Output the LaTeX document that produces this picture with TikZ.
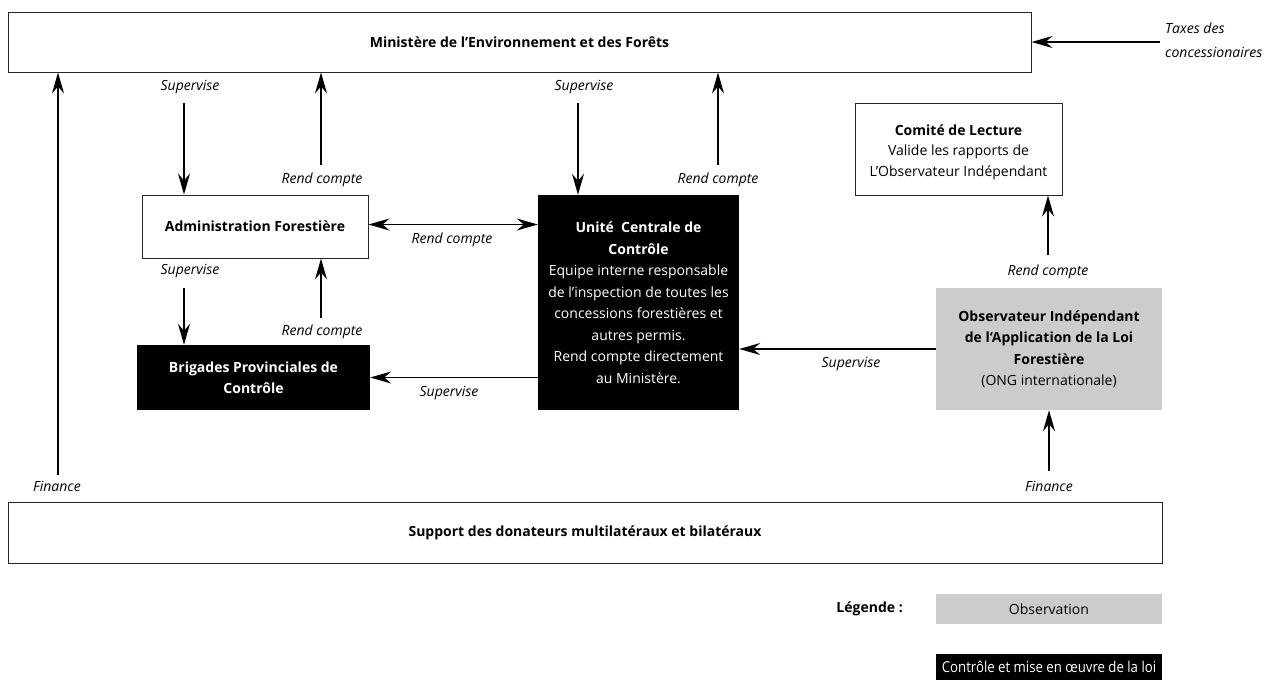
\documentclass[tikz,border=0pt]{standalone}
\usepackage{fontspec}
\setmainfont{Open Sans}
\usetikzlibrary{arrows.meta}
\begin{document}
\begin{tikzpicture}[x=1pt,y=-1pt,
  font=\fontsize{14}{21.5}\selectfont,
  box/.style={draw=black!85, line width=1pt, inner sep=0pt, align=center},
  dark/.style={fill=black, text=white, inner sep=0pt, align=center},
  obs/.style={fill=black!20, inner sep=0pt, align=center},
  arr/.style={-{Stealth[length=21pt,width=12pt,inset=7pt]}, line width=1.3pt},
  lbl/.style={font=\fontsize{14}{21.5}\selectfont\itshape, inner sep=0pt},
]
\useasboundingbox (0,0) rectangle (1273,680);

% boxes
\node[box, minimum width=1023, minimum height=60, font=\fontsize{14}{21.5}\selectfont\bfseries] (minis) at (519.5,42) {Ministère de l’Environnement et des Forêts};

\node[box, minimum width=226, minimum height=63, font=\fontsize{14}{21.5}\selectfont\bfseries] (admin) at (255,226.5) {Administration Forestière};

\node[dark, minimum width=201, minimum height=215] (ucc) at (638.5,302.5)
 {\textbf{Unité\ \ Centrale de}\\ \textbf{Contrôle}\\ Equipe interne responsable\\ de l’inspection de toutes les\\ concessions forestières et\\ autres permis.\\ Rend compte directement\\ au Ministère.};

\node[dark, minimum width=233, minimum height=65, font=\fontsize{14}{21.5}\selectfont\bfseries] (brig) at (253.5,377.5)
 {Brigades Provinciales de\\ Contrôle};

\node[box, minimum width=207, minimum height=92] (comite) at (958.5,149) {};
\node[inner sep=0pt, align=center, font=\fontsize{14}{20.5}\selectfont] (comitet) at (958.5,152)
 {\textbf{Comité de Lecture}\\ Valide les rapports de\\ L’Observateur Indépendant};

\node[obs, minimum width=226, minimum height=122] (obs) at (1049,349)
 {\textbf{Observateur Indépendant}\\ \textbf{de l`Application de la Loi}\\ \textbf{Forestière}\\ (ONG internationale)};

\node[box, minimum width=1154, minimum height=61, font=\fontsize{14}{21.5}\selectfont\bfseries] (supp) at (585,532.5) {Support des donateurs multilatéraux et bilatéraux};

% legend
\node[inner sep=0pt, anchor=east, font=\fontsize{14}{21.5}\selectfont\bfseries] (leg) at (903,609) {Légende :};
\node[obs, minimum width=226, minimum height=30] (legobs) at (1049,609) {Observation};
\node[dark, minimum width=226, minimum height=26, font=\fontsize{15}{16}\selectfont] (legctl) at (1049,667) {\scalebox{0.88}[1]{Contrôle et mise en œuvre de la loi}};

% free ends
\coordinate (taxes) at (1160,42);
\coordinate (fin1) at (58,475);
\coordinate (s1) at (184,103);
\coordinate (r1) at (321,165);
\coordinate (s2) at (578,103);
\coordinate (r2) at (718,165);
\coordinate (s3) at (184,288);
\coordinate (r3) at (321,318);
\coordinate (r4) at (1048,255);
\coordinate (fin2) at (1049,471);

% connectors
\draw[arr] (taxes) -- (minis.east);
\draw[arr] (fin1) -- (fin1 |- minis.south);
\draw[arr] (s1) -- (s1 |- admin.north);
\draw[arr] (r1) -- (r1 |- minis.south);
\draw[arr] (s2) -- (s2 |- ucc.north);
\draw[arr] (r2) -- (r2 |- minis.south);
\draw[{Stealth[length=21pt,width=12pt,inset=7pt]}-{Stealth[length=21pt,width=12pt,inset=7pt]}, line width=1.3pt] ([yshift=2pt]admin.east) -- ([yshift=2pt]admin.east -| ucc.west);
\draw[arr] (s3) -- (s3 |- brig.north);
\draw[arr] (r3) -- (r3 |- admin.south);
\draw[arr] (ucc.west |- brig.east) -- (brig.east);
\draw[arr] (obs.west) -- (obs.west -| ucc.east);
\draw[arr] (r4) -- (r4 |- comite.south);
\draw[arr] (fin2) -- (obs.south);

% labels
\node[lbl, anchor=west, align=left] (taxl) at (1165,40) {Taxes des\\[3pt]concessionaires};
\node[lbl] (finl1) at (57,486) {Finance};
\node[lbl] (supl1) at (190,87) {Supervise};
\node[lbl] (rcl1) at (322,180) {Rend compte};
\node[lbl] (supl2) at (584,87) {Supervise};
\node[lbl] (rcl2) at (718,180) {Rend compte};
\node[lbl] (rcl3) at (452,240) {Rend compte};
\node[lbl] (supl3) at (190,271) {Supervise};
\node[lbl] (rcl4) at (322,332) {Rend compte};
\node[lbl] (supl4) at (449,393) {Supervise};
\node[lbl] (supl5) at (851,364) {Supervise};
\node[lbl] (rcl5) at (1048,272) {Rend compte};
\node[lbl] (finl2) at (1049,486) {Finance};
\end{tikzpicture}
\end{document}
